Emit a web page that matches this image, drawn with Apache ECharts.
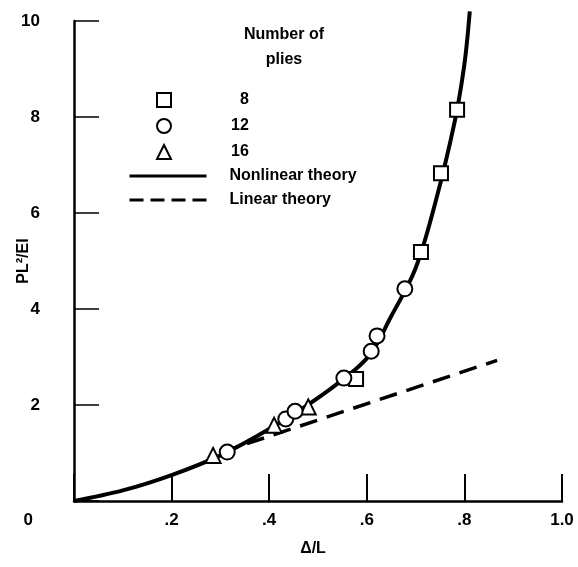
<!DOCTYPE html>
<html><head><meta charset="utf-8">
<script src="https://cdn.jsdelivr.net/npm/echarts@6/dist/echarts.min.js"></script>
<style>html,body{margin:0;padding:0;background:#fff}#c{width:578px;height:567px}</style>
</head><body><div id="c"></div>
<script>
// ---- data ----
const xTickLabels = {0: '0', 0.2: '.2', 0.4: '.4', 0.6: '.6', 0.8: '.8', 1: '1.0'};
const yTickValues = [0, 2, 4, 6, 8, 10];
const plies8 = [[0.578, 2.54], [0.711, 5.19], [0.752, 6.83], [0.785, 8.15]];
const plies12 = [[0.314, 1.02], [0.434, 1.71], [0.453, 1.87], [0.553, 2.56], [0.609, 3.12], [0.621, 3.44], [0.678, 4.42]];
const plies16 = [[0.285, 0.95], [0.410, 1.58], [0.480, 1.96]];
const nonlinearTheory = [[0, 0], [0.1, 0.22], [0.2, 0.54], [0.3, 0.95],
  [0.4, 1.5], [0.5, 2.15], [0.6, 2.97], [0.65, 3.85],
  [0.70, 4.85], [0.74, 6.2], [0.78, 7.9], [0.80, 9.1], [0.811, 10.2]];
const linearTheory = [[0.30, 1.01], [0.867, 2.93]];
const legendTitle = 'Number of\nplies';

const FONT = 'Liberation Sans, Arial, Helvetica, sans-serif';
const chart = echarts.init(document.getElementById('c'), null, {renderer: 'canvas'});
const markerStyle = {color: '#fff', borderColor: '#000', borderWidth: 2, opacity: 1};
const hiddenIcon = {color: 'rgba(0,0,0,0)', borderColor: 'rgba(0,0,0,0)', borderWidth: 0};
const legendText = {fontFamily: FONT, fontWeight: 'bold', fontSize: 16, color: '#000', lineHeight: 16};

chart.setOption({
  backgroundColor: '#fff',
  animation: false,
  grid: {left: 74, top: 21, width: 488, height: 480, containLabel: false, outerBoundsMode: 'none'},
  graphic: [{
    type: 'text', x: 284, y: 22,
    style: {text: legendTitle, align: 'center', verticalAlign: 'top', fill: '#000',
      font: 'bold 16px ' + FONT, lineHeight: 25}
  }],
  legend: [{
    orient: 'vertical', left: 151, top: 87,
    itemWidth: 14, itemHeight: 14, itemGap: 10,
    itemStyle: {borderWidth: 2, borderColor: '#000', color: '#fff'},
    textStyle: Object.assign({padding: [0, 0, 0, 55]}, legendText),
    data: [
      {name: '8', textStyle: {padding: [0, 0, 0, 64]}},
      {name: '12'}, {name: '16'}
    ]
  }, {
    orient: 'vertical', left: 123, top: 163,
    itemWidth: 77, itemHeight: 14, itemGap: 8,
    lineStyle: {width: 3, color: '#000'},
    textStyle: Object.assign({padding: [0, 0, 0, 18]}, legendText),
    data: [
      {name: 'Nonlinear theory', itemStyle: hiddenIcon},
      {name: 'Linear theory', itemStyle: hiddenIcon, lineStyle: {type: [14, 7], width: 3}}
    ]
  }],
  xAxis: {
    type: 'value', min: 0, max: 1, interval: 0.2,
    name: 'Δ/L', nameLocation: 'middle', nameGap: 40, nameMoveOverlap: false,
    nameTextStyle: {fontFamily: FONT, fontWeight: 'bold', fontSize: 16, color: '#000', padding: [0, 10, 0, 0]},
    axisLine: {show: true, lineStyle: {color: '#000', width: 2.5}},
    axisTick: {show: true, inside: true, length: 27, lineStyle: {color: '#000', width: 2}},
    axisLabel: {fontFamily: FONT, fontWeight: 'bold', fontSize: 17, color: '#000', margin: 11,
      formatter: v => v === 0 ? '' : (xTickLabels[Math.round(v * 10) / 10] || '')},
    splitLine: {show: false}
  },
  yAxis: {
    type: 'value', min: 0, max: 10, interval: 2,
    name: 'PL²/EI', nameLocation: 'middle', nameGap: 42, nameRotate: 90, nameMoveOverlap: false,
    nameTextStyle: {fontFamily: FONT, fontWeight: 'bold', fontSize: 16, color: '#000'},
    axisLine: {show: true, lineStyle: {color: '#000', width: 2.5}},
    axisTick: {show: true, inside: true, length: 25, lineStyle: {color: '#000', width: 1.5}},
    axisLabel: {fontFamily: FONT, fontWeight: 'bold', fontSize: 17, color: '#000', margin: 34,
      formatter: v => v === 0 ? '{z|0}' : String(v),
      rich: {z: {fontFamily: FONT, fontWeight: 'bold', fontSize: 17, color: '#000', padding: [38, 7, 0, 0]}}},
    splitLine: {show: false}
  },
  series: [
    {name: 'Nonlinear theory', type: 'line', data: nonlinearTheory, symbol: 'none', smooth: 0.35,
      clip: false, z: 2, lineStyle: {color: '#000', width: 4}, itemStyle: hiddenIcon},
    {name: 'Linear theory', type: 'line', data: linearTheory, symbol: 'none', z: 2,
      lineStyle: {color: '#000', width: 3.5, type: [18, 10]}, itemStyle: hiddenIcon},
    {name: '8', type: 'scatter', data: plies8, symbol: 'rect', symbolSize: 14, z: 4, itemStyle: markerStyle},
    {name: '12', type: 'scatter', data: plies12, symbol: 'circle', symbolSize: 15, z: 5, itemStyle: markerStyle},
    {name: '16', type: 'scatter', data: plies16, symbol: 'triangle', symbolSize: 15, z: 4, itemStyle: markerStyle}
  ]
});
</script>
</body></html>
